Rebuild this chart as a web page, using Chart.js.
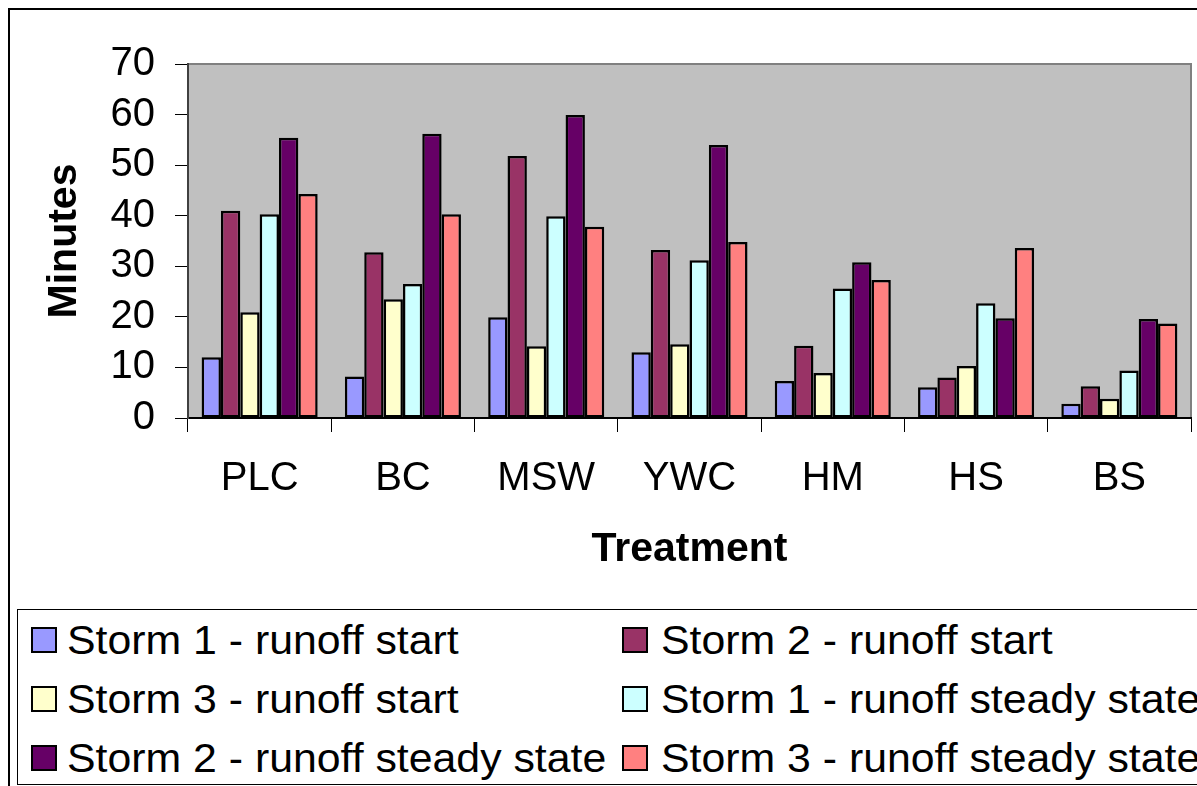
<!DOCTYPE html>
<html>
<head>
<meta charset="utf-8">
<script src="https://cdn.jsdelivr.net/npm/chart.js@4/dist/chart.umd.min.js"></script>
<style>
  html, body { margin: 0; padding: 0; background: #fff; overflow: hidden; }
  body { width: 1197px; height: 786px; position: relative; font-family: "Liberation Sans", Arial, sans-serif; }
  #wrap { position: absolute; left: 0; top: 0; width: 1197px; height: 600px; }
  #frame { position: absolute; left: 8px; top: 8px; width: 1300px; height: 900px; border: 2px solid #000; pointer-events: none; }
  #legend-box { position: absolute; left: 17px; top: 609px; width: 1300px; height: 174px; border: 1.5px solid #000; }
  .lg-mark { position: absolute; width: 26px; height: 26px; box-sizing: border-box; border: 2.5px solid #000; }
  .lg-text { position: absolute; font-size: 40px; line-height: 40px; color: #000; white-space: nowrap; transform: scaleX(1.07); transform-origin: left center; }
</style>
</head>
<body>
<div id="frame"></div>
<div id="wrap"><canvas id="chart"></canvas></div>
<div id="legend-box"></div>
<div id="legend"></div>
<script>
const categories = ['PLC', 'BC', 'MSW', 'YWC', 'HM', 'HS', 'BS'];
const seriesNames = [
  'Storm 1 - runoff start', 'Storm 2 - runoff start', 'Storm 3 - runoff start',
  'Storm 1 - runoff steady state', 'Storm 2 - runoff steady state', 'Storm 3 - runoff steady state'
];
const seriesColors = ['#9999FF', '#993366', '#FFFFCC', '#CCFFFF', '#660066', '#FF8080'];
const storm1Start  = [12.0, 8.2, 19.9, 13.0, 7.3, 6.1, 2.8];
const storm2Start  = [41.0, 32.8, 51.8, 33.2, 14.3, 8.0, 6.3];
const storm3Start  = [20.9, 23.5, 14.2, 14.6, 8.9, 10.3, 3.8];
const storm1Steady = [40.3, 26.5, 39.9, 31.2, 25.6, 22.7, 9.4];
const storm2Steady = [55.4, 56.2, 59.9, 54.0, 30.8, 19.7, 19.6];
const storm3Steady = [44.3, 40.3, 37.8, 34.8, 27.3, 33.6, 18.7];
const yTicks = [0, 10, 20, 30, 40, 50, 60, 70];

const seriesData = [storm1Start, storm2Start, storm3Start, storm1Steady, storm2Steady, storm3Steady];
const FONT = '"Liberation Sans", Arial, sans-serif';
Chart.defaults.font.family = FONT;
Chart.defaults.color = '#000';

// grey plot area with its grey frame, drawn under the bars
const plotBg = {
  id: 'plotBg',
  beforeDraw(chart) {
    const { ctx, chartArea: a } = chart;
    ctx.save();
    ctx.fillStyle = '#C0C0C0';
    ctx.fillRect(a.left, a.top, a.right - a.left, a.bottom - a.top);
    ctx.strokeStyle = '#808080';
    ctx.lineWidth = 2;
    ctx.strokeRect(a.left, a.top, a.right - a.left, a.bottom - a.top);
    ctx.restore();
  }
};

new Chart(document.getElementById('chart'), {
  type: 'bar',
  data: {
    labels: categories,
    datasets: seriesData.map((d, i) => ({
      label: seriesNames[i],
      data: d,
      backgroundColor: seriesColors[i],
      borderColor: '#000',
      borderWidth: 2.5,
      borderSkipped: false,
      barPercentage: 1,
      categoryPercentage: 0.81
    }))
  },
  options: {
    responsive: true,
    maintainAspectRatio: false,
    animation: false,
    layout: { padding: { top: 64, right: 6, left: 0, bottom: 0 } },
    plugins: { legend: { display: false }, tooltip: { enabled: false } },
    scales: {
      x: {
        grid: { drawOnChartArea: false, drawTicks: true, tickLength: 14, color: '#000', lineWidth: 1 },
        border: { color: '#000', width: 2 },
        ticks: { font: { size: 40 }, padding: 23, maxRotation: 0, autoSkip: false },
        title: { display: true, text: 'Treatment', font: { size: 41, weight: 'bold' }, padding: { top: 0, bottom: 26 } },
        afterFit: s => { s.height = 182; }
      },
      y: {
        min: 0, max: 70,
        afterBuildTicks: s => { s.ticks = yTicks.map(v => ({ value: v })); },
        grid: { drawOnChartArea: false, drawTicks: true, tickLength: 13, color: '#000', lineWidth: 1 },
        border: { color: '#404040', width: 2 },
        ticks: { font: { size: 40 }, padding: 20, autoSkip: false },
        title: { display: true, text: 'Minutes', font: { size: 41, weight: 'bold' }, padding: { top: 40, bottom: 0 } },
        afterFit: s => { s.width = 188; }
      }
    }
  },
  plugins: [plotBg]
});

// legend: two columns, filled row by row
const legend = document.getElementById('legend');
legend.innerHTML = seriesNames.map((name, i) => {
  const col = i % 2, row = Math.floor(i / 2);
  const top = 627 + row * 59;
  const markLeft = col ? 622 : 31;
  const textLeft = col ? 661 : 67;
  return `<div class="lg-mark" style="left:${markLeft}px;top:${top}px;background:${seriesColors[i]}"></div>` +
         `<div class="lg-text" style="left:${textLeft}px;top:${top - 7}px">${name}</div>`;
}).join('');
</script>
</body>
</html>
